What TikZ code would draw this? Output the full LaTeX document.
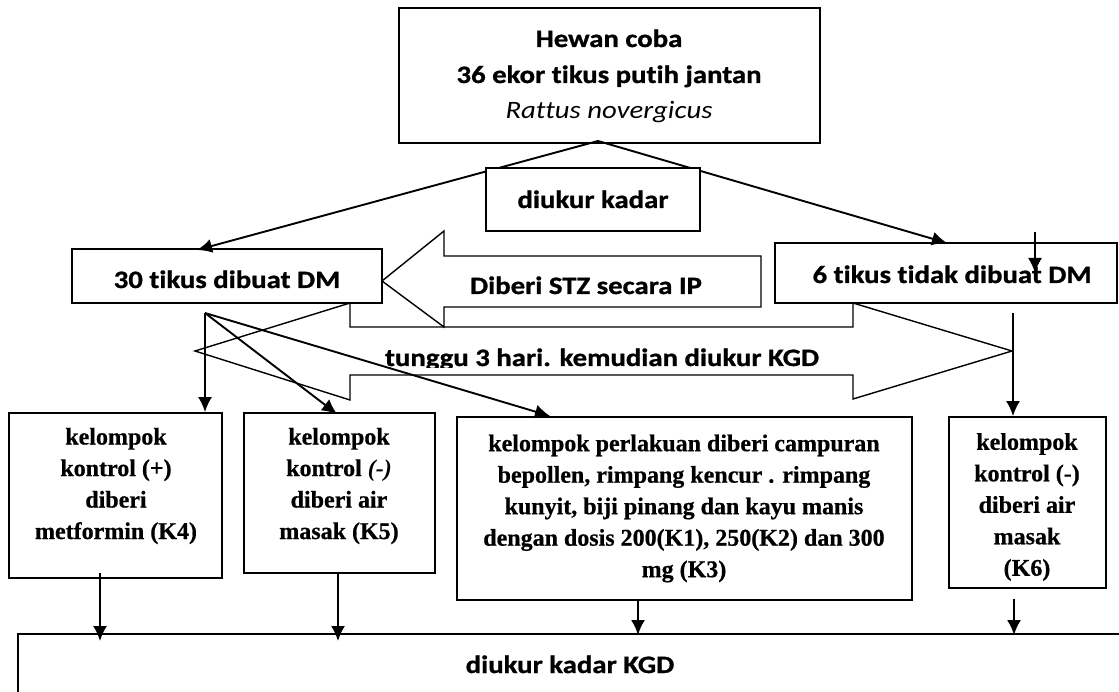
\documentclass[tikz,border=0pt]{standalone}
\usepackage{fontspec}
\setmainfont{Carlito}[FakeStretch=1.15, Ligatures=NoCommon, BoldFeatures={FakeBold=1}]
\newfontfamily\tnr{Liberation Serif}[BoldFeatures={FakeBold=0.6}]
\usetikzlibrary{arrows.meta}
\tikzset{
  box/.style={draw, line width=1.8pt, fill=white, inner sep=0pt},
  cal/.style={font=\fontsize{25}{36}\selectfont\bfseries, inner sep=0pt},
  tms/.style={font=\tnr\fontsize{24}{31.5}\selectfont\bfseries, align=center, inner sep=0pt},
  conn/.style={line width=1.9pt, -{Latex[length=15pt,width=14pt]}},
  big/.style={draw, line width=1.4pt, fill=white, line join=miter},
}
\begin{document}
\begin{tikzpicture}[x=1pt,y=-1pt]
\useasboundingbox (0,0) rectangle (1119,692);
\clip (0,0) rectangle (1119,692);
% top box
\node[box, minimum width=421pt, minimum height=135pt] (top) at (609.5,75.5) {};
\node[cal, anchor=base] (topa) at (609,47) {Hewan coba};
\node[cal, anchor=base] (topb) at (609,83) {36 ekor tikus putih jantan};
\node[cal, anchor=base] (topc) at (609,119) {\mdseries\itshape Rattus novergicus};
% double arrow
\draw[big] (195,351) -- (350,303) -- (350,327) -- (853,327) -- (853,303) -- (1012,351) -- (853,399) -- (853,375) -- (350,375) -- (350,400) -- cycle;
\begin{scope}
  \clip (300,330) rectangle (900,368);
  \node[cal, anchor=base] (wait) at (602,366) {tunggu 3 hari. kemudian diukur KGD};
\end{scope}
% STZ arrow
\draw[big] (382,281) -- (444,231) -- (444,256) -- (761,256) -- (761,307) -- (444,307) -- (444,327) -- cycle;
\node[cal, anchor=base] (stz) at (586,294) {Diberi STZ secara IP};
% second row boxes
\node[box, minimum width=310pt, minimum height=54pt] (dm30) at (227,276) {};
\node[cal, anchor=base] (dm30t) at (227,288) {30 tikus dibuat DM};
\node[box, minimum width=342pt, minimum height=60pt] (dm6) at (946,273) {};
\node[cal, anchor=base] (dm6t) at (952,283) {6 tikus tidak dibuat DM};
% arrows from top box
\coordinate (ts) at (598,141);
\coordinate (in30) at (197,250);
\coordinate (in6) at (947,243);
\draw[conn] (ts) -- (in30);
\draw[conn] (ts) -- (in6);
\node[box, minimum width=214pt, minimum height=63pt] (dk) at (593,199.5) {};
\node[cal, anchor=base] (dkt) at (593,208) {diukur kadar};
% group boxes
\node[box, minimum width=213pt, minimum height=165pt] (k4) at (115.5,495.5) {};
\node[tms] (k4t) at (116,486) {kelompok\\kontrol (+)\\diberi\\metformin (K4)};
\node[box, minimum width=191pt, minimum height=160pt] (k5) at (339.5,493) {};
\node[tms] (k5t) at (339,486) {kelompok\\kontrol \textit{(-)}\\diberi air\\masak (K5)};
\node[box, minimum width=455pt, minimum height=183pt] (kp) at (684.5,508.5) {};
\node[tms] (kpt) at (684,508.5) {kelompok perlakuan diberi campuran\\bepollen, rimpang kencur . rimpang\\kunyit, biji pinang dan kayu manis\\dengan dosis 200(K1), 250(K2) dan 300\\mg (K3)};
\node[box, minimum width=157pt, minimum height=171pt] (k6) at (1027.5,502.5) {};
\node[tms] (k6t) at (1027,507) {kelompok\\kontrol (-)\\diberi air\\masak\\(K6)};
\node[box, minimum width=1122pt, minimum height=100pt] (bot) at (579,684) {};
\node[cal, anchor=base] (bott) at (570,673) {diukur kadar KGD};
% arrows from 30 tikus
\coordinate (sp) at (205,313);
\coordinate (in5) at (337,414);
\coordinate (inp) at (550,416);
\draw[conn] (sp) -- (sp |- k4.north);
\draw[conn] (sp) -- (in5);
\draw[conn] (sp) -- (inp);
% arrow to K6
\coordinate (s6) at (1013,313);
\draw[conn] (s6) -- (s6 |- k6.north);
% odd arrow in 6 tikus box
\coordinate (odd) at (1035,232);
\coordinate (oddend) at (1035,273);
\draw[conn] (odd) -- (oddend);
% arrows to bottom box
\coordinate (d4) at (100,573);   \coordinate (d4e) at (100,641);
\coordinate (d5) at (338,573);   \coordinate (d5e) at (338,641);
\coordinate (dp) at (638,600);   \coordinate (dpe) at (638,635);
\coordinate (d6) at (1014,599);  \coordinate (d6e) at (1014,635);
\draw[conn] (d4) -- (d4e);
\draw[conn] (d5) -- (d5e);
\draw[conn] (dp) -- (dpe);
\draw[conn] (d6) -- (d6e);
\end{tikzpicture}
\end{document}
